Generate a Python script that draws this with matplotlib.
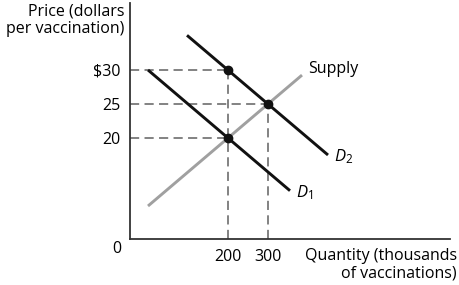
import matplotlib
matplotlib.use("Agg")
import matplotlib.pyplot as plt

plt.rcParams["font.family"] = ["Open Sans", "DejaVu Sans"]
plt.rcParams["mathtext.fontset"] = "custom"
plt.rcParams["mathtext.it"] = "Open Sans:italic"
plt.rcParams["mathtext.rm"] = "Open Sans"

# curves (quantity in thousands, price in dollars)
supply_q = [0, 385]
supply_p = [10, 29.25]
d1_q = [0, 355]
d1_p = [30, 12.25]
d2_q = [97.5, 450]
d2_p = [35.1, 17.5]

# marked points
point_q = [200, 300, 200]
point_p = [30, 25, 20]

price_ticks = [20, 25, 30]
price_labels = ["20", "25", "$30"]
qty_ticks = [200, 300]
qty_labels = ["200", "300"]

FS = 11.5

fig = plt.figure(figsize=(4.59, 2.85), dpi=100)
ax = fig.add_axes([130 / 459, 46 / 285, 320 / 459, 236 / 285])

ax.set_xlim(-45, 755)
ax.set_ylim(5.15, 39.85)

dash_kw = dict(color="#606060", lw=1.1, dashes=(6, 3.5), zorder=1)

# guide lines
for q, p in zip(point_q, point_p):
    ax.plot([-45, q], [p, p], **dash_kw)
ax.plot([200, 200], [5.15, 30], **dash_kw)
ax.plot([300, 300], [5.15, 25], **dash_kw)

ax.plot(supply_q, supply_p, color="#a0a0a0", lw=2.1, zorder=2,
        solid_capstyle="butt")
ax.plot(d1_q, d1_p, color="#111111", lw=2.1, zorder=3,
        solid_capstyle="butt")
ax.plot(d2_q, d2_p, color="#111111", lw=2.1, zorder=3,
        solid_capstyle="butt")

ax.plot(point_q, point_p, "o", color="#111111", ms=6, zorder=4)

# labels
ax.text(supply_q[1] + 15, supply_p[1] + 0.9, "Supply",
        fontsize=FS, va="center", ha="left")
ax.text(d1_q[1] + 15, d1_p[1] - 0.3, r"$D_{\mathrm{1}}$",
        fontsize=FS + 0.5, va="center", ha="left")
ax.text(d2_q[1] + 15, d2_p[1] - 0.3, r"$D_{\mathrm{2}}$",
        fontsize=FS + 0.5, va="center", ha="left")

for side in ["top", "right"]:
    ax.spines[side].set_visible(False)
for side in ["left", "bottom"]:
    ax.spines[side].set_linewidth(1.3)
    ax.spines[side].set_color("#333333")

ax.set_yticks(price_ticks)
ax.set_yticklabels(price_labels, fontsize=FS)
ax.set_xticks(qty_ticks)
ax.set_xticklabels(qty_labels, fontsize=FS)
ax.tick_params(axis="y", length=0, pad=7)
ax.tick_params(axis="x", length=0, pad=7)

fig.text(124 / 459, 1 - 3 / 285, "Price (dollars\nper vaccination)",
         ha="right", va="top", fontsize=FS, linespacing=1.2)
fig.text(117 / 459, 1 - 249 / 285, "0", ha="center", va="center",
         fontsize=FS)
fig.text(457 / 459, 1 - 248 / 285, "Quantity (thousands\nof vaccinations)",
         ha="right", va="top", fontsize=FS, linespacing=1.15)

fig.savefig("out.png", dpi=100)
